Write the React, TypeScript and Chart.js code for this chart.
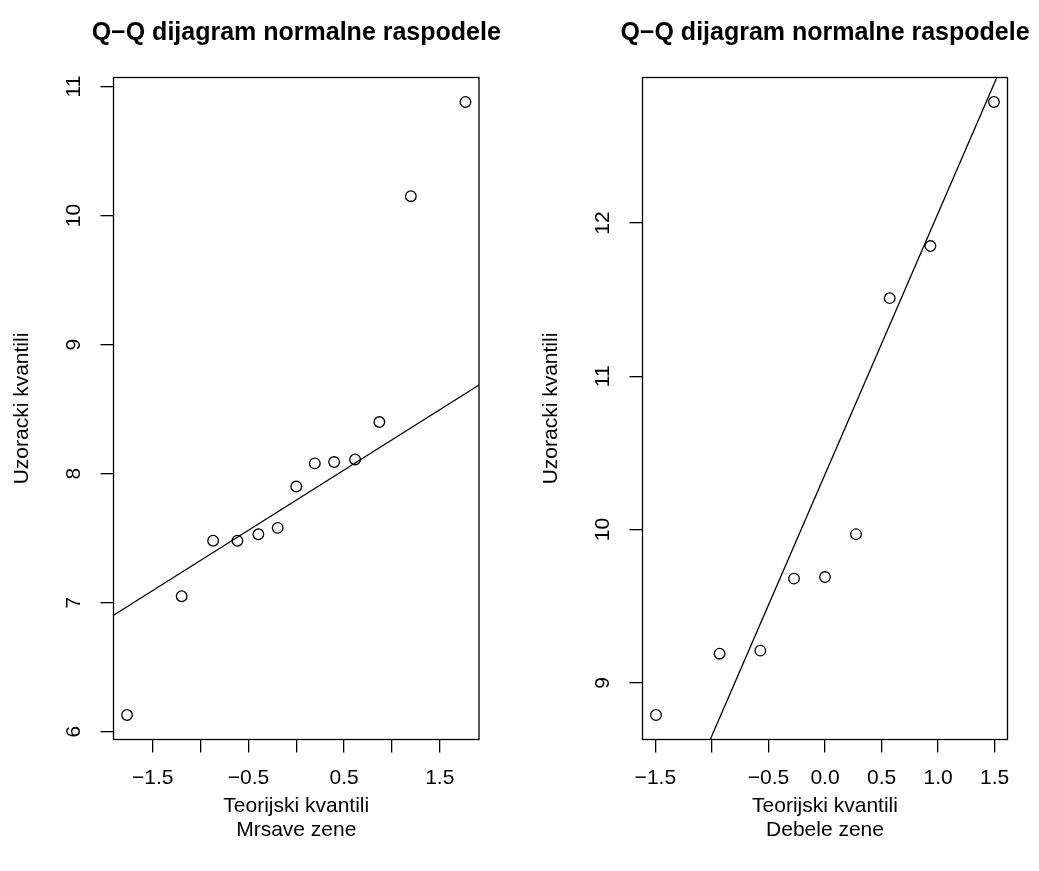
import { useEffect, useRef } from "react";
import { Chart, registerables } from "chart.js";

Chart.register(...registerables);

// Shared texts
const titleText = "Q\u2212Q dijagram normalne raspodele";
const xAxisTitle = "Teorijski kvantili";
const yAxisTitle = "Uzoracki kvantili";

// Panel 1: Mrsave zene (n = 13)
const thinGroup = "Mrsave zene";
const thinTheoretical = [-1.769, -1.198, -0.869, -0.615, -0.396, -0.194, 0, 0.194, 0.396, 0.615, 0.869, 1.198, 1.769];
const thinSample = [6.13, 7.05, 7.48, 7.48, 7.53, 7.58, 7.9, 8.08, 8.09, 8.11, 8.4, 10.15, 10.88];
const thinLineIntercept = 7.795;
const thinLineSlope = 0.467;
const thinXTicks = [-1.5, -1, -0.5, 0, 0.5, 1, 1.5];
const thinXTickLabels = ["\u22121.5", "", "\u22120.5", "", "0.5", "", "1.5"];
const thinYTicks = [6, 7, 8, 9, 10, 11];
const thinYTickLabels = ["6", "7", "8", "9", "10", "11"];

// Panel 2: Debele zene (n = 9)
const heavyGroup = "Debele zene";
const heavyTheoretical = [-1.494, -0.932, -0.572, -0.274, 0, 0.274, 0.572, 0.932, 1.494];
const heavySample = [8.79, 9.19, 9.21, 9.68, 9.69, 9.97, 11.51, 11.85, 12.79];
const heavyLineIntercept = 10.36;
const heavyLineSlope = 1.705;
const heavyXTicks = [-1.5, -1, -0.5, 0, 0.5, 1, 1.5];
const heavyXTickLabels = ["\u22121.5", "", "\u22120.5", "0.0", "0.5", "1.0", "1.5"];
const heavyYTicks = [9, 10, 11, 12];
const heavyYTickLabels = ["9", "10", "11", "12"];

const W = 1039;
const H = 871;
const FONT = "'Liberation Sans', Arial, Helvetica, sans-serif";

type Panel = {
  group: string;
  theoretical: number[];
  sample: number[];
  intercept: number;
  slope: number;
  xTicks: number[];
  xTickLabels: string[];
  yTicks: number[];
  yTickLabels: string[];
  box: { left: number; right: number; top: number; bottom: number };
};

const panels: Panel[] = [
  {
    group: thinGroup,
    theoretical: thinTheoretical,
    sample: thinSample,
    intercept: thinLineIntercept,
    slope: thinLineSlope,
    xTicks: thinXTicks,
    xTickLabels: thinXTickLabels,
    yTicks: thinYTicks,
    yTickLabels: thinYTickLabels,
    box: { left: 113.5, right: 479, top: 77.5, bottom: 739.5 },
  },
  {
    group: heavyGroup,
    theoretical: heavyTheoretical,
    sample: heavySample,
    intercept: heavyLineIntercept,
    slope: heavyLineSlope,
    xTicks: heavyXTicks,
    xTickLabels: heavyXTickLabels,
    yTicks: heavyYTicks,
    yTickLabels: heavyYTickLabels,
    box: { left: 642.5, right: 1007.5, top: 77.5, bottom: 739.5 },
  },
];

// Axis range: data extent widened by 4% on each side
function extendRange(values: number[]): [number, number] {
  const lo = Math.min(...values);
  const hi = Math.max(...values);
  const pad = (hi - lo) * 0.04;
  return [lo - pad, hi + pad];
}

function makeTextPlugin(panel: Panel) {
  return {
    id: "panelText",
    afterDraw(chart: any) {
      const ctx = chart.ctx as CanvasRenderingContext2D;
      const area = chart.chartArea;
      const xs = chart.scales.x;
      const ys = chart.scales.y;
      ctx.save();
      // frame
      ctx.strokeStyle = "#000";
      ctx.lineWidth = 1.3;
      ctx.strokeRect(area.left, area.top, area.right - area.left, area.bottom - area.top);

      ctx.fillStyle = "#000";
      ctx.textBaseline = "middle";
      ctx.textAlign = "center";

      // x tick labels
      ctx.font = `21px ${FONT}`;
      panel.xTicks.forEach((v, i) => {
        const label = panel.xTickLabels[i];
        if (label) ctx.fillText(label, xs.getPixelForValue(v), area.bottom + 39);
      });

      // y tick labels (vertical)
      panel.yTicks.forEach((v, i) => {
        ctx.save();
        ctx.translate(area.left - 39, ys.getPixelForValue(v));
        ctx.rotate(-Math.PI / 2);
        ctx.fillText(panel.yTickLabels[i], 0, 0);
        ctx.restore();
      });

      const cx = (area.left + area.right) / 2;
      const cy = (area.top + area.bottom) / 2;

      // axis titles
      ctx.fillText(xAxisTitle, cx, area.bottom + 67);
      ctx.fillText(panel.group, cx, area.bottom + 91);
      ctx.save();
      ctx.translate(area.left - 91, cy);
      ctx.rotate(-Math.PI / 2);
      ctx.fillText(yAxisTitle, 0, 0);
      ctx.restore();

      // main title
      ctx.font = `bold 25px ${FONT}`;
      ctx.fillText(titleText, cx, 33);
      ctx.restore();
    },
  };
}

function buildChart(canvas: HTMLCanvasElement, panel: Panel) {
  const [xmin, xmax] = extendRange(panel.theoretical);
  const [ymin, ymax] = extendRange(panel.sample);
  const points = panel.theoretical.map((x, i) => ({ x, y: panel.sample[i] }));
  const linePoints = [xmin, xmax].map((x) => ({ x, y: panel.intercept + panel.slope * x }));

  const tickGrid = {
    drawOnChartArea: false,
    drawTicks: true,
    tickLength: 13,
    color: "#000",
    lineWidth: 1.3,
  };

  return new Chart(canvas, {
    type: "scatter",
    data: {
      datasets: [
        {
          type: "scatter",
          data: points,
          pointRadius: 5.3,
          pointHoverRadius: 5.3,
          pointBorderWidth: 1.3,
          borderColor: "#000",
          backgroundColor: "rgba(0,0,0,0)",
        } as any,
        {
          type: "line",
          data: linePoints,
          borderColor: "#000",
          borderWidth: 1.3,
          pointRadius: 0,
          fill: false,
          tension: 0,
        } as any,
      ],
    },
    options: {
      responsive: false,
      animation: false,
      events: [],
      layout: {
        padding: {
          left: panel.box.left,
          right: W - panel.box.right,
          top: panel.box.top,
          bottom: H - panel.box.bottom,
        },
      },
      plugins: {
        legend: { display: false },
        tooltip: { enabled: false },
        title: { display: false },
      },
      scales: {
        x: {
          type: "linear",
          position: "bottom",
          min: xmin,
          max: xmax,
          afterBuildTicks: (s: any) => {
            s.ticks = panel.xTicks.map((v) => ({ value: v }));
          },
          afterFit: (s: any) => {
            s.height = 0;
          },
          ticks: { display: false },
          grid: tickGrid,
          border: { display: false },
        },
        y: {
          type: "linear",
          position: "left",
          min: ymin,
          max: ymax,
          afterBuildTicks: (s: any) => {
            s.ticks = panel.yTicks.map((v) => ({ value: v }));
          },
          afterFit: (s: any) => {
            s.width = 0;
          },
          ticks: { display: false },
          grid: tickGrid,
          border: { display: false },
        },
      },
    } as any,
    plugins: [makeTextPlugin(panel)],
  });
}

export default function App() {
  const leftRef = useRef<HTMLCanvasElement | null>(null);
  const rightRef = useRef<HTMLCanvasElement | null>(null);

  useEffect(() => {
    const charts: Chart[] = [];
    if (leftRef.current) charts.push(buildChart(leftRef.current, panels[0]));
    if (rightRef.current) charts.push(buildChart(rightRef.current, panels[1]));
    return () => charts.forEach((c) => c.destroy());
  }, []);

  const canvasStyle: React.CSSProperties = {
    position: "absolute",
    left: 0,
    top: 0,
    width: W,
    height: H,
    display: "block",
  };

  return (
    <div style={{ position: "fixed", left: 0, top: 0, width: W, height: H, background: "#fff" }}>
      <canvas ref={leftRef} width={W} height={H} style={canvasStyle} />
      <canvas ref={rightRef} width={W} height={H} style={canvasStyle} />
    </div>
  );
}
